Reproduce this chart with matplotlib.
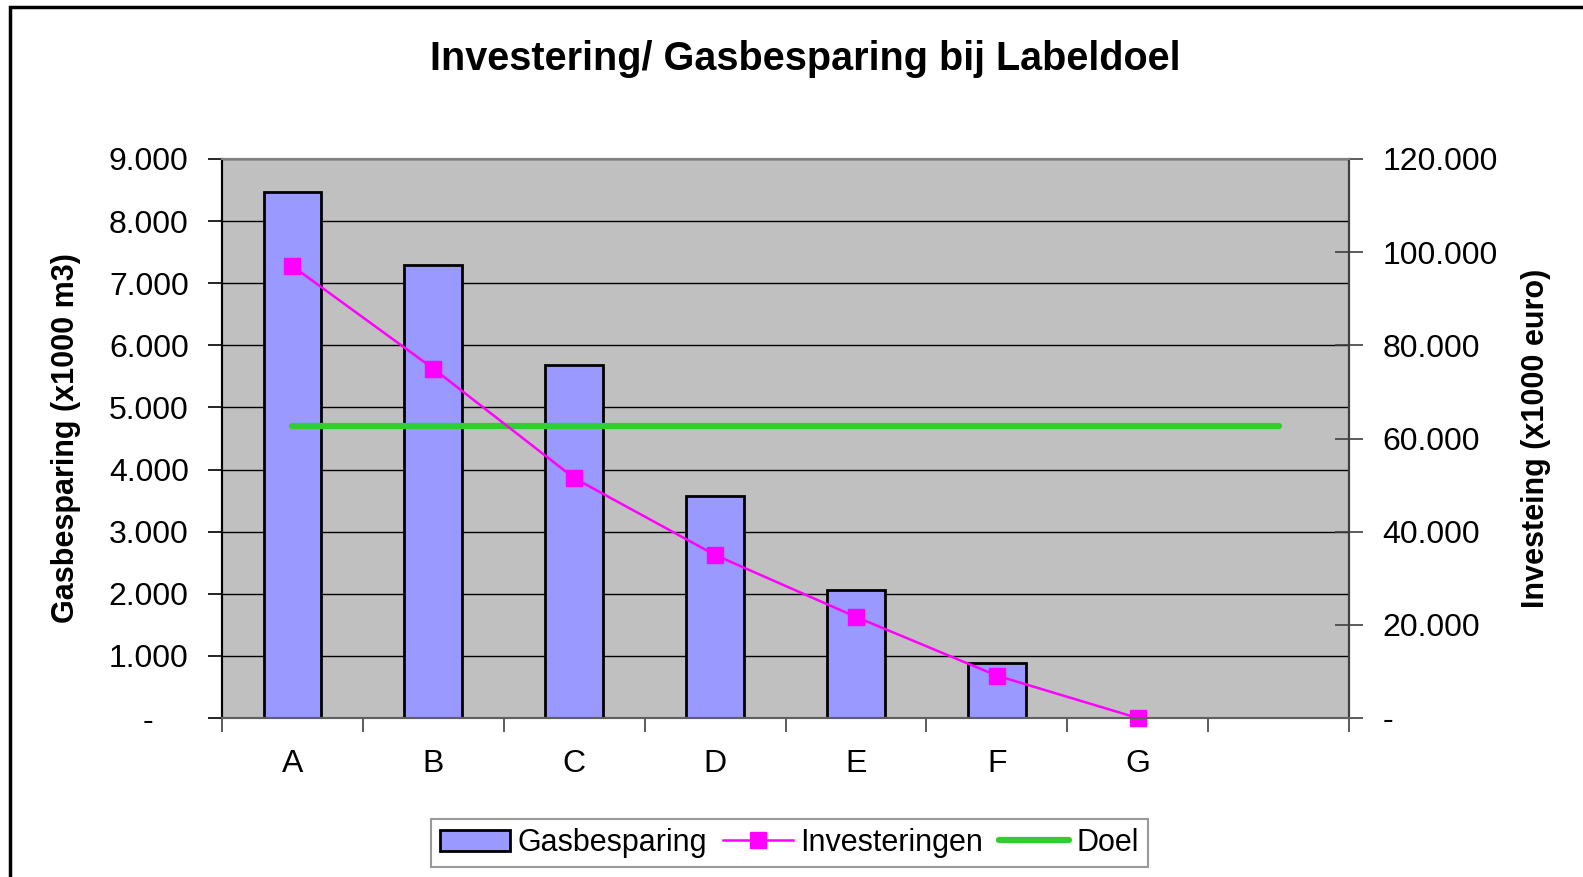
import matplotlib.pyplot as plt
from matplotlib.patches import Rectangle
from matplotlib.ticker import FuncFormatter, MultipleLocator, FixedLocator

# data
categorieen = ["A", "B", "C", "D", "E", "F", "G", ""]
gasbesparing = [8470, 7300, 5690, 3570, 2060, 890, 0]
investeringen = [97000, 75000, 51500, 35000, 21700, 9100, 0]
doel = [4700] * 8

plt.rcParams['font.family'] = ['Liberation Sans', 'DejaVu Sans']

def fmt(v, pos):
    if v == 0:
        return "-    "
    return f"{int(v):,}".replace(",", ".")

def fmt_r(v, pos):
    if v == 0:
        return "-"
    return f"{int(v):,}".replace(",", ".")

fig = plt.figure(figsize=(15.83, 8.77), dpi=100)
ax = fig.add_axes([222 / 1583, 1 - 718 / 877, (1349 - 222) / 1583, (718 - 159) / 877])
ax2 = ax.twinx()

xs = list(range(len(categorieen)))
ax.set_facecolor("#C0C0C0")
ax.set_axisbelow(True)
ax.grid(axis="y", color="black", linewidth=1)

balken = ax.bar(xs[:len(gasbesparing)], gasbesparing, width=0.41, color="#9999FF",
                edgecolor="black", linewidth=2, label="Gasbesparing", zorder=2)
lijn_doel, = ax.plot(xs, doel, color="#33CC33", linewidth=4.5, solid_capstyle="round",
                     label="Doel", zorder=3)
lijn_inv, = ax2.plot(xs[:len(investeringen)], investeringen, color="#FF00FF", linewidth=1.8,
                     marker="s", markersize=12, label="Investeringen", clip_on=False)

ax.set_xlim(-0.5, len(categorieen) - 0.5)
ax.set_ylim(0, 9000)
ax2.set_ylim(0, 120000)
ax.yaxis.set_major_locator(MultipleLocator(1000))
ax2.yaxis.set_major_locator(MultipleLocator(20000))
ax.yaxis.set_major_formatter(FuncFormatter(fmt))
ax2.yaxis.set_major_formatter(FuncFormatter(fmt_r))

ax.set_xticks(xs)
ax.set_xticklabels(categorieen)
ax.xaxis.set_minor_locator(FixedLocator([x - 0.5 for x in range(len(categorieen) + 1)]))
ax.tick_params(axis="x", which="major", length=0, pad=22, labelsize=23)
ax.tick_params(axis="x", which="minor", length=10, width=1.2, color="#404040")
ax.tick_params(axis="y", length=10, width=1.2, pad=14, labelsize=23)
ax2.tick_params(axis="y", direction="inout", length=20, width=1.2, pad=14, labelsize=23, color="#404040")

for a in (ax, ax2):
    for s in a.spines.values():
        s.set_linewidth(1.5)
ax.spines["top"].set_color("#808080")
ax.spines["bottom"].set_color("#606060")
ax2.spines["top"].set_color("#808080")
ax2.spines["bottom"].set_color("#606060")
ax2.spines["right"].set_color("#404040")
ax.spines["left"].set_color("black")

ax.set_ylabel("Gasbesparing (x1000 m3)", fontsize=22, fontweight="bold", labelpad=20)
ax2.set_ylabel("Investeing (x1000 euro)", fontsize=22, fontweight="bold", labelpad=17)

fig.text(0.5085, 1 - 59 / 877, "Investering/ Gasbesparing bij Labeldoel", ha="center", va="center",
         fontsize=28.5, fontweight="bold")

leg = fig.legend([balken, lijn_inv, lijn_doel], ["Gasbesparing", "Investeringen", "Doel"],
                 loc="center", bbox_to_anchor=(0.4987, 1 - 843 / 877), ncol=3, fontsize=22,
                 frameon=True, fancybox=False, edgecolor="#808080", handlelength=2.3,
                 columnspacing=0.5, handletextpad=0.25, borderpad=0.3)
leg.get_frame().set_linewidth(1.5)

fig.patches.append(Rectangle((10 / 1583, -0.1), 1.2, 1.1 - 7 / 877, transform=fig.transFigure,
                             fill=False, edgecolor="black", linewidth=2.5))

fig.savefig("out.png", dpi=100)
